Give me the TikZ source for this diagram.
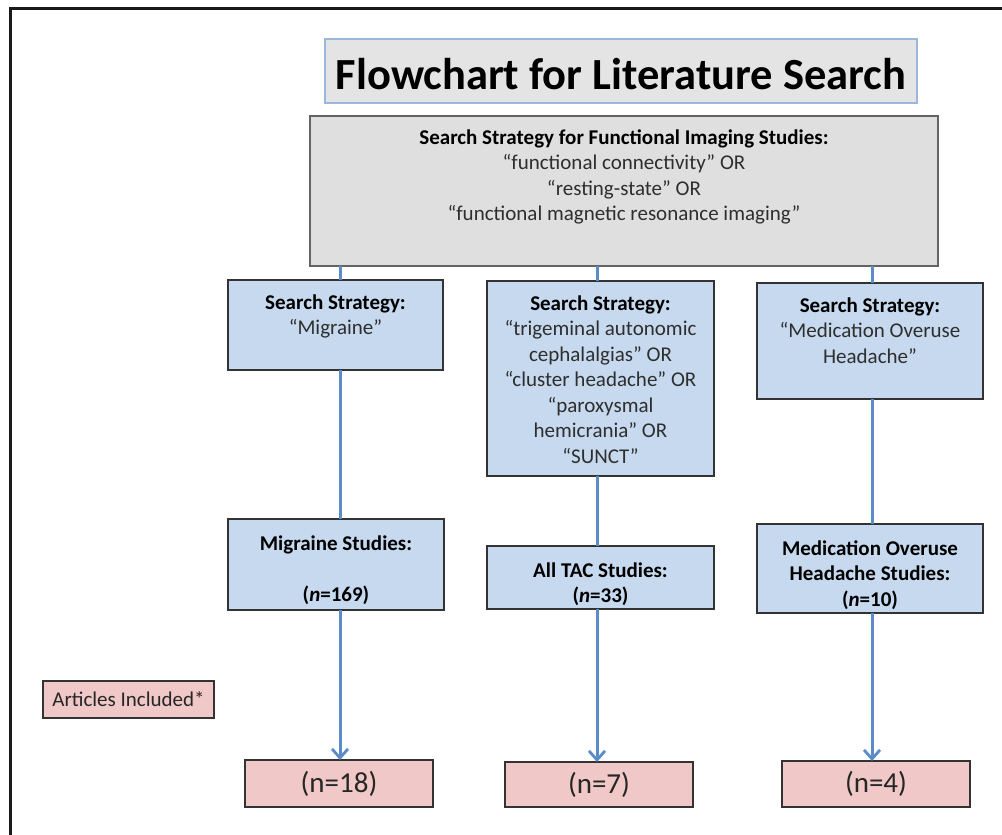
\documentclass[tikz,border=0pt]{standalone}
\usepackage{fontspec}
\setmainfont{Carlito}
\usetikzlibrary{arrows.meta}
\definecolor{titlefill}{HTML}{E4E4E4}
\definecolor{titleedge}{HTML}{9BB7DC}
\definecolor{grayfill}{HTML}{DFDFDF}
\definecolor{grayedge}{HTML}{646464}
\definecolor{bluefill}{HTML}{C6D9EE}
\definecolor{boxedge}{HTML}{333333}
\definecolor{pinkfill}{HTML}{F0C8C7}
\definecolor{connblue}{HTML}{5B8CC8}
\definecolor{txtgray}{HTML}{2E2E2E}
\tikzset{
  boxbase/.style={draw, inner sep=0pt, outer sep=0pt, anchor=north west},
  titlebox/.style={boxbase, fill=titlefill, draw=titleedge, line width=1.5pt},
  graybox/.style={boxbase, fill=grayfill, draw=grayedge, line width=2.4pt},
  bluebox/.style={boxbase, fill=bluefill, draw=boxedge, line width=2pt},
  pinkbox/.style={boxbase, fill=pinkfill, draw=boxedge, line width=2pt, text=black!85},
  bodytext/.style={align=center, anchor=north, inner sep=0pt, text=txtgray,
    font=\fontsize{21}{25.5}\selectfont},
  conn/.style={draw=connblue, line width=3pt},
  arr/.style={conn, -{Straight Barb[length=9pt,width=16pt,line width=2.8pt]}},
}
\newcommand{\bt}[1]{\textcolor{black}{\textbf{#1}}}
\begin{document}
\begin{tikzpicture}[x=1pt,y=-1pt]
\useasboundingbox (0,0) rectangle (1002,835);
\clip (0,0) rectangle (1002,835);
\fill[white] (0,0) rectangle (1002,835);
\draw[line width=3pt, black!90] (10.5,860) -- (10.5,8.5) -- (1020,8.5);

% column coordinates
\coordinate (c1) at (340,0);
\coordinate (c2) at (597,0);
\coordinate (c3) at (872,0);

% title
\node[titlebox, minimum width=592, minimum height=64] (title) at (325,39) {};
\node[anchor=base, inner sep=0pt, font=\fontsize{44.5}{50}\selectfont\bfseries] (titletext) at (621,89) {Flowchart for Literature Search};

% top search strategy
\node[graybox, minimum width=628, minimum height=150] (gray) at (310,116) {};
\node[bodytext] (graytext) at (624,126) {\strut\bt{Search Strategy for Functional Imaging Studies:}\\
  ``functional connectivity'' OR\\ ``resting-state'' OR\\ ``functional magnetic resonance imaging''};

% row 1
\node[bluebox, minimum width=215, minimum height=90] (s1) at (228,280) {};
\node[bodytext] (s1text) at (335.5,291) {\strut\bt{Search Strategy:}\\ ``Migraine''};

\node[bluebox, minimum width=227, minimum height=195] (s2) at (487,281) {};
\node[bodytext] (s2text) at (600.5,292) {\strut\bt{Search Strategy:}\\ ``trigeminal autonomic\\ cephalalgias'' OR\\ ``cluster headache'' OR\\ ``paroxysmal\\ hemicrania'' OR\\ ``SUNCT''};

\node[bluebox, minimum width=226, minimum height=116] (s3) at (757,283) {};
\node[bodytext] (s3text) at (870,294) {\strut\bt{Search Strategy:}\\ ``Medication Overuse\\ Headache''};

% row 2
\node[bluebox, minimum width=216, minimum height=91] (r1) at (228,519) {};
\node[bodytext] (r1text) at (336,532) {\strut\bt{Migraine Studies:}\\[25.5pt] \bt{(\textit{n}=169)}};

\node[bluebox, minimum width=227, minimum height=63] (r2) at (487,546) {};
\node[bodytext] (r2text) at (600.5,559) {\strut\bt{All TAC Studies:}\\ \bt{(\textit{n}=33)}};

\node[bluebox, minimum width=226, minimum height=89] (r3) at (757,524) {};
\node[bodytext] (r3text) at (870,537) {\strut\bt{Medication Overuse}\\ \bt{Headache Studies:}\\ \bt{(\textit{n}=10)}};

% pink
\node[pinkbox, minimum width=171, minimum height=37, font=\fontsize{21}{24}\selectfont] (art) at (43,681) {Articles Included*};
\node[pinkbox, minimum width=188, minimum height=47, font=\fontsize{29}{32}\selectfont] (p1) at (245,760) {\raisebox{-2pt}{(n=18)}};
\node[pinkbox, minimum width=188, minimum height=45, font=\fontsize{29}{32}\selectfont] (p2) at (505,762) {\raisebox{-2pt}{(n=7)}};
\node[pinkbox, minimum width=188, minimum height=46, font=\fontsize{29}{32}\selectfont] (p3) at (782,761) {\raisebox{-2pt}{(n=4)}};

% connectors
\draw[conn] (gray.south -| c1) -- (s1.north -| c1);
\draw[conn] (gray.south -| c2) -- (s2.north -| c2);
\draw[conn] (gray.south -| c3) -- (s3.north -| c3);
\draw[conn] (s1.south -| c1) -- (r1.north -| c1);
\draw[conn] (s2.south -| c2) -- (r2.north -| c2);
\draw[conn] (s3.south -| c3) -- (r3.north -| c3);
\draw[arr] (r1.south -| c1) -- (p1.north -| c1);
\draw[arr] (r2.south -| c2) -- (p2.north -| c2);
\draw[arr] (r3.south -| c3) -- (p3.north -| c3);
\end{tikzpicture}
\end{document}
